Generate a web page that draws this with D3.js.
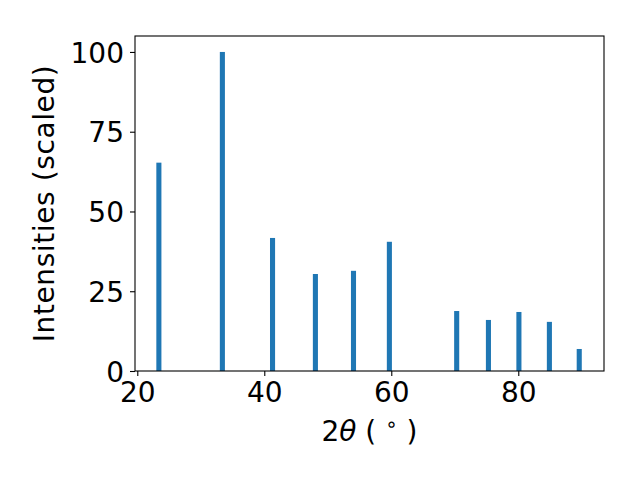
<!DOCTYPE html>
<html>
<head>
<meta charset="utf-8">
<script src="https://cdn.jsdelivr.net/npm/d3@7"></script>
<style>
  body { margin: 0; background: white; }
  svg { font-family: "DejaVu Sans", sans-serif; }
</style>
</head>
<body>
<svg id="chart" width="640" height="480"></svg>
<script>
// peak positions (2theta) and scaled intensities
var twoTheta = [23.4, 33.4, 41.3, 48.05, 54.05, 59.7, 70.3, 75.3, 80.1, 84.9, 89.6];
var intensities = [65.3, 100, 41.7, 30.4, 31.4, 40.5, 18.8, 16.0, 18.5, 15.4, 6.9];
var xTicks = [20, 40, 60, 80];
var yTicks = [0, 25, 50, 75, 100];

var svg = d3.select("#chart");
var box = {left: 135, right: 604, top: 36, bottom: 371};
var barWidth = 0.8;

var x = d3.scaleLinear().domain([19.64, 93.5]).range([box.left, box.right]);
var y = d3.scaleLinear().domain([0, 105]).range([box.bottom, box.top]);

svg.append("rect").attr("width", 640).attr("height", 480).attr("fill", "white");

// bars
svg.append("g").selectAll("rect").data(twoTheta).enter()
    .append("rect")
    .attr("x", (d) => x(d - barWidth / 2))
    .attr("width", (d) => x(d + barWidth / 2) - x(d - barWidth / 2))
    .attr("y", (d, i) => y(intensities[i]))
    .attr("height", (d, i) => y(0) - y(intensities[i]))
    .attr("fill", "#1f77b4");

// axes
var xAxis = svg.append("g")
    .attr("transform", "translate(0," + box.bottom + ")")
    .call(d3.axisBottom(x).tickValues(xTicks).tickSize(5).tickPadding(6).tickFormat(d3.format("d")));
var yAxis = svg.append("g")
    .attr("transform", "translate(" + box.left + ",0)")
    .call(d3.axisLeft(y).tickValues(yTicks).tickSize(5).tickPadding(6).tickFormat(d3.format("d")));

[xAxis, yAxis].forEach((a) => {
    a.select(".domain").remove();
    a.selectAll(".tick line").attr("stroke", "black").attr("stroke-width", 1.1);
    a.selectAll(".tick text").attr("fill", "black").style("font-size", "28px").style("font-family", "DejaVu Sans");
});
xAxis.selectAll(".tick text").attr("dy", "0.72em");
yAxis.selectAll(".tick text").attr("dy", "0.36em");

// frame
svg.append("rect")
    .attr("x", box.left).attr("y", box.top)
    .attr("width", box.right - box.left).attr("height", box.bottom - box.top)
    .attr("fill", "none").attr("stroke", "black").attr("stroke-width", 1.1);

// labels
var xl = svg.append("text")
    .attr("x", (box.left + box.right) / 2)
    .attr("y", 441)
    .attr("text-anchor", "middle")
    .style("font-size", "28px");
xl.append("tspan").text("2");
xl.append("tspan").attr("font-style", "italic").attr("font-family", "DejaVu Sans").text("θ");
xl.append("tspan").text(" ( ");
xl.append("tspan").attr("dy", -10).style("font-size", "20px").text("∘");
xl.append("tspan").attr("dy", 10).text(" )");

// matplotlib lays this out a bit wider than the browser does
svg.append("text")
    .attr("transform", "translate(54," + ((box.top + box.bottom) / 2) + ") rotate(-90)")
    .attr("text-anchor", "middle")
    .style("font-size", "28px")
    .style("letter-spacing", "0.6px")
    .text("Intensities (scaled)");
</script>
</body>
</html>
